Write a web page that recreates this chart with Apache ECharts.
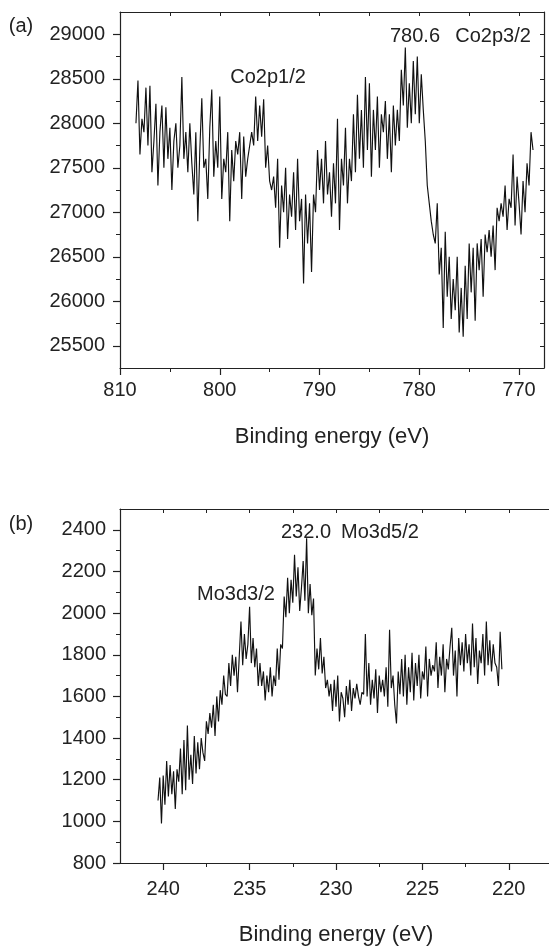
<!DOCTYPE html>
<html>
<head>
<meta charset="utf-8">
<title>XPS Co2p / Mo3d</title>
<script src="https://cdn.jsdelivr.net/npm/echarts@6.0.0/dist/echarts.min.js"></script>
<style>
  html, body { margin: 0; padding: 0; background: #fff; }
  #chart { width: 549px; height: 950px; }
</style>
</head>
<body>
<div id="chart"></div>
<script>
// (a) Co2p spectrum, one row = 1 eV, points every 0.2 eV from 808.4 down to 768.6
const coStart = 808.4, coStep = 0.2;
const coCounts = [
  28000, 28480, 27650, 28050, 27900, // 808.4
  28400, 27750, 28420, 27450, 27800, // 807.4
  28220, 27300, 27900, 28200, 27500, // 806.4
  28180, 27600, 27950, 27250, 27800, // 805.4
  28000, 27500, 27750, 28520, 27600, // 804.4
  27900, 27450, 28000, 27550, 27200, // 803.4
  27900, 26900, 27700, 28280, 27500, // 802.4
  27600, 27150, 27950, 28380, 27400, // 801.4
  27800, 27500, 28300, 27150, 27600, // 800.4
  27450, 27900, 26900, 27700, 27350, // 799.4
  27800, 27650, 27900, 27150, 27850, // 798.4
  27400, 27600, 27750, 27900, 27750, // 797.4
  28300, 27800, 28200, 27850, 28270, // 796.4
  27500, 27750, 27350, 27250, 27400, // 795.4
  27050, 27600, 26600, 27300, 27000, // 794.4
  27500, 26700, 27200, 26950, 27450, // 793.4
  26800, 27600, 26900, 27150, 26200, // 792.4
  27200, 26650, 27100, 26330, 27200, // 791.4
  27000, 27700, 27250, 27600, 27100, // 790.4
  27800, 27200, 27450, 26950, 27550, // 789.4
  27100, 28050, 26800, 27600, 27300, // 788.4
  27950, 27100, 27600, 27350, 28100, // 787.4
  27450, 28320, 27600, 28150, 27500, // 786.4
  28520, 27700, 28450, 27400, 28150, // 785.4
  27700, 28300, 27500, 28100, 27900, // 784.4
  28250, 27600, 28100, 27450, 28200, // 783.4
  27750, 28150, 27800, 28600, 28200, // 782.4
  28850, 27950, 28450, 28000, 28700, // 781.4
  28100, 28750, 28000, 28550, 28150, // 780.4
  27800, 27300, 27100, 26900, 26750, // 779.4
  26650, 27100, 26300, 26600, 25700, // 778.4
  26780, 26050, 26500, 25800, 26250, // 777.4
  25900, 26500, 25650, 26150, 25600, // 776.4
  26400, 25800, 26650, 26100, 26600, // 775.4
  25780, 26650, 26350, 26700, 26050, // 774.4
  26750, 26550, 26800, 26500, 26850, // 773.4
  26350, 27050, 26900, 27100, 26950, // 772.4
  27300, 26800, 27150, 27050, 27650, // 771.4
  26850, 27400, 27100, 26750, 27350, // 770.4
  27000, 27550, 27300, 27900, 27700  // 769.4
];

// (b) Mo3d spectrum, one row = 1 eV, points every 0.1 eV from 240.3 down to 220.4
const moStart = 240.3, moStep = 0.1;
const moCounts = [
  1100, 1210, 990, 1220, 1080, 1290, 1120, 1270, 1130, 1240,   // 240.3
  1060, 1250, 1190, 1350, 1130, 1390, 1150, 1460, 1200, 1320,  // 239.3
  1180, 1410, 1230, 1380, 1250, 1400, 1330, 1290, 1480, 1420,  // 238.3
  1520, 1450, 1560, 1410, 1600, 1480, 1630, 1560, 1700, 1610,  // 237.3
  1600, 1760, 1650, 1800, 1700, 1790, 1620, 1790, 1960, 1750,  // 236.3
  1900, 1780, 1850, 2030, 1760, 1880, 1740, 1830, 1650, 1760,  // 235.3
  1650, 1720, 1580, 1700, 1620, 1740, 1600, 1700, 1650, 1830,  // 234.3
  1680, 1850, 1830, 2080, 1980, 2170, 2000, 2160, 2050, 2280,  // 233.3
  2080, 2220, 2010, 2120, 2250, 2060, 2360, 2000, 2140, 1990,  // 232.3
  2070, 1700, 1830, 1730, 1880, 1710, 1790, 1640, 1680, 1600,  // 231.3
  1660, 1530, 1680, 1550, 1700, 1480, 1620, 1590, 1500, 1650,  // 230.3
  1560, 1680, 1530, 1640, 1590, 1660, 1600, 1560, 1620, 1610,  // 229.3
  1900, 1600, 1760, 1560, 1680, 1590, 1730, 1520, 1700, 1620,  // 228.3
  1680, 1600, 1740, 1550, 1920, 1640, 1700, 1560, 1470, 1720,  // 227.3
  1610, 1780, 1600, 1800, 1560, 1740, 1620, 1810, 1580, 1760,  // 226.3
  1650, 1800, 1590, 1720, 1680, 1840, 1600, 1780, 1700, 1750,  // 225.3
  1720, 1860, 1640, 1790, 1700, 1850, 1620, 1780, 1730, 1840,  // 224.3
  1930, 1700, 1820, 1600, 1880, 1750, 1860, 1720, 1900, 1760,  // 223.3
  1850, 1700, 1950, 1740, 1880, 1660, 1820, 1760, 1900, 1700,  // 222.3
  1960, 1750, 1870, 1720, 1850, 1760, 1740, 1650, 1910, 1730   // 221.3
];

// tick values
const coXTicks = [810, 800, 790, 780, 770];
const coXMinor = [805, 795, 785, 775];
const coXTop = [810, 805, 800, 795, 790, 785, 780, 775, 770];
const coYTicks = [25500, 26000, 26500, 27000, 27500, 28000, 28500, 29000];
const coYMinor = [25750, 26250, 26750, 27250, 27750, 28250, 28750];
const coYRight = [25500, 25750, 26000, 26250, 26500, 26750, 27000, 27250, 27500, 27750, 28000, 28250, 28500, 28750, 29000];

const moXTicks = [240, 235, 230, 225, 220];
const moXMinor = [237.5, 232.5, 227.5, 222.5];
const moXTop = [240, 237.5, 235, 232.5, 230, 227.5, 225, 222.5, 220];
const moYTicks = [800, 1000, 1200, 1400, 1600, 1800, 2000, 2200, 2400];
const moYMinor = [900, 1100, 1300, 1500, 1700, 1900, 2100, 2300];

const coData = coCounts.map((v, i) => [+(coStart - i * coStep).toFixed(1), v]);
const moData = moCounts.map((v, i) => [+(moStart - i * moStep).toFixed(1), v]);

const ink = '#222';
const font = '"Liberation Sans", Arial, Helvetica, sans-serif';

// axis helpers
function mainX(grid, min, max, ticks, margin, gap) {
  return {
    type: 'value', gridIndex: grid, position: 'bottom', min: min, max: max, inverse: true,
    axisLine: { show: true, onZero: false, lineStyle: { color: ink, width: 1.2 } },
    axisTick: { show: true, length: 7, customValues: ticks, lineStyle: { color: ink, width: 1.2 } },
    axisLabel: { customValues: ticks, formatter: v => String(v), fontSize: 20, color: ink, fontFamily: font, margin: margin },
    splitLine: { show: false },
    name: 'Binding energy (eV)', nameLocation: 'middle', nameGap: gap,
    nameTextStyle: { fontSize: 22, color: ink, fontFamily: font }
  };
}
function tickX(grid, min, max, ticks, pos, inside, len) {
  return {
    type: 'value', gridIndex: grid, position: pos, min: min, max: max, inverse: true,
    axisLine: { show: pos === 'top', onZero: false, lineStyle: { color: ink, width: 1.2 } },
    axisTick: { show: true, inside: inside, length: len, customValues: ticks, lineStyle: { color: ink, width: 1 } },
    axisLabel: { show: false }, splitLine: { show: false }
  };
}
function mainY(grid, min, max, ticks, margin) {
  return {
    type: 'value', gridIndex: grid, position: 'left', min: min, max: max,
    axisLine: { show: true, onZero: false, lineStyle: { color: ink, width: 1.2 } },
    axisTick: { show: true, length: 7, customValues: ticks, lineStyle: { color: ink, width: 1.2 } },
    axisLabel: { customValues: ticks, formatter: v => String(v), fontSize: 20, color: ink, fontFamily: font, margin: margin },
    splitLine: { show: false }
  };
}
function tickY(grid, min, max, ticks, pos, inside, len, line) {
  return {
    type: 'value', gridIndex: grid, position: pos, min: min, max: max,
    axisLine: { show: line, onZero: false, lineStyle: { color: ink, width: 1.2 } },
    axisTick: { show: true, inside: inside, length: len, customValues: ticks, lineStyle: { color: ink, width: 1 } },
    axisLabel: { show: false }, splitLine: { show: false }
  };
}
function label(text, x, y) {
  return {
    type: 'text', x: x, y: y,
    style: { text: text, fill: ink, font: '20px ' + font, align: 'center', verticalAlign: 'middle' }
  };
}

const chart = echarts.init(document.getElementById('chart'));
chart.setOption({
  animation: false,
  backgroundColor: '#fff',
  textStyle: { fontFamily: font },
  grid: [
    { left: 120, top: 12, right: 5, height: 356, outerBoundsMode: 'none' },
    { left: 120, top: 509, right: -3, height: 354, outerBoundsMode: 'none' }
  ],
  xAxis: [
    mainX(0, 767.5, 810, coXTicks, 12, 58),
    tickX(0, 767.5, 810, coXMinor, 'bottom', false, 4),
    tickX(0, 767.5, 810, coXTop, 'top', true, 4),
    mainX(1, 217.5, 242.5, moXTicks, 16, 61),
    tickX(1, 217.5, 242.5, moXMinor, 'bottom', false, 4),
    tickX(1, 217.5, 242.5, moXTop, 'top', true, 4)
  ],
  yAxis: [
    mainY(0, 25250, 29250, coYTicks, 15),
    tickY(0, 25250, 29250, coYMinor, 'left', false, 4, false),
    tickY(0, 25250, 29250, coYRight, 'right', true, 4, true),
    mainY(1, 800, 2500, moYTicks, 14),
    tickY(1, 800, 2500, moYMinor, 'left', false, 4, false)
  ],
  series: [
    {
      type: 'line', xAxisIndex: 0, yAxisIndex: 0, data: coData,
      showSymbol: false, symbol: 'none',
      lineStyle: { color: '#111', width: 1.15 }
    },
    {
      type: 'line', xAxisIndex: 3, yAxisIndex: 3, data: moData,
      showSymbol: false, symbol: 'none',
      lineStyle: { color: '#111', width: 1.15 }
    }
  ],
  graphic: [
    label('(a)', 21, 26),
    label('780.6', 415, 36),
    label('Co2p3/2', 493, 36),
    label('Co2p1/2', 268, 77),
    label('(b)', 21, 524),
    label('232.0', 306, 532),
    label('Mo3d5/2', 380, 532),
    label('Mo3d3/2', 236, 594)
  ]
});
</script>
</body>
</html>
